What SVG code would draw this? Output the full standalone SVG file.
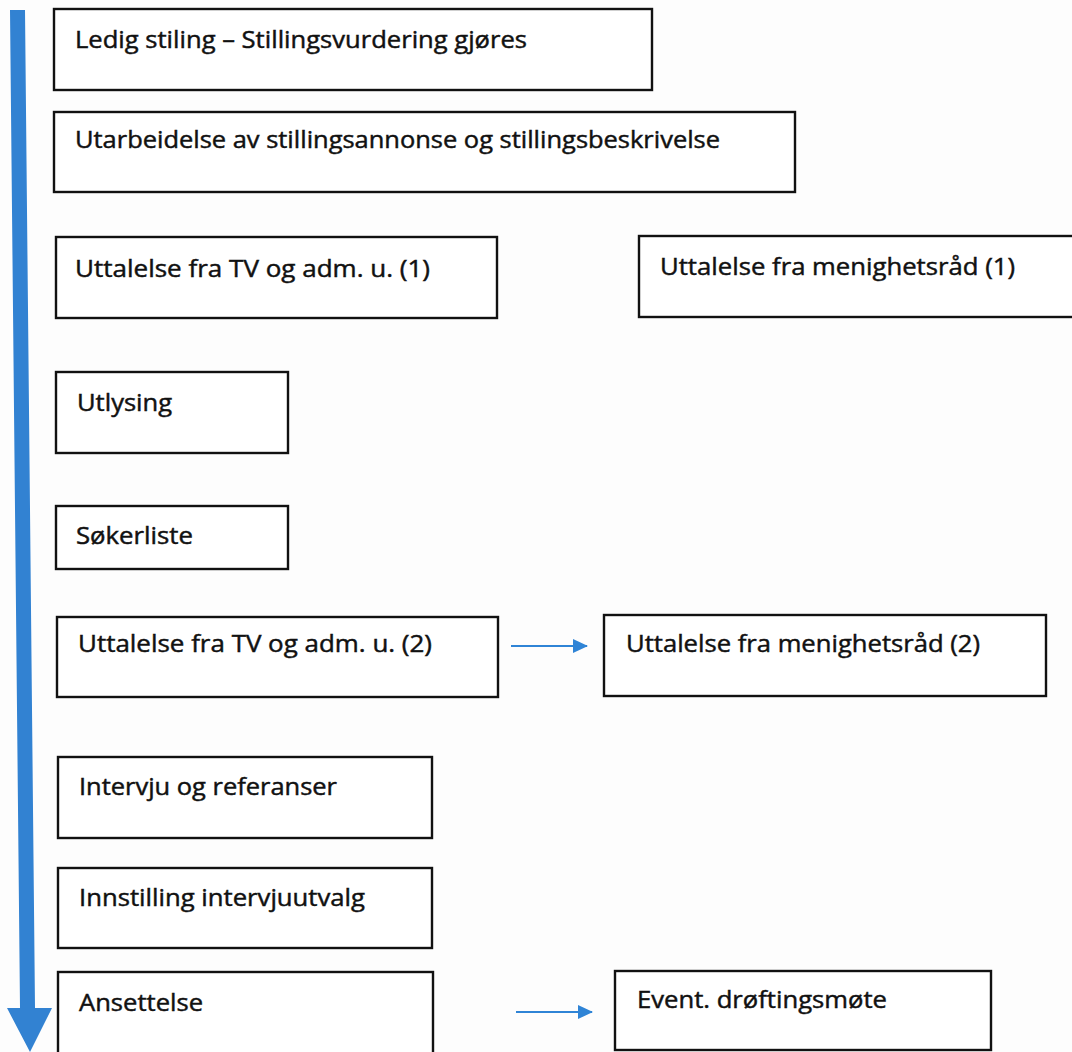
<svg xmlns="http://www.w3.org/2000/svg" width="1072" height="1052" viewBox="0 0 1072 1052">
<style>
.box{fill:#fff;stroke:#111;stroke-width:2.4}
.t{font-family:"Open Sans","Noto Sans","Liberation Sans",sans-serif;font-size:23px;fill:#111;stroke:#111;stroke-width:0.45}
.c{stroke:#2f84d6;stroke-width:2;fill:none}
</style>
<defs>
<marker id="ah" markerWidth="15" markerHeight="14" refX="14" refY="7" orient="auto" markerUnits="userSpaceOnUse">
<path d="M0,0 L15,7 L0,14 Z" fill="#2f84d6"/>
</marker>
</defs>
<rect width="1072" height="1052" fill="#fdfdfd"/>
<g id="connectors">
<polygon points="10,10 25,10 35,1008 52,1008 30,1052 7,1008 20,1008" fill="#3282d2"/>
<line class="c" x1="511" y1="646" x2="587" y2="646" marker-end="url(#ah)"/>
<line class="c" x1="516" y1="1012" x2="592" y2="1012" marker-end="url(#ah)"/>
</g>
<g id="n1"><rect class="box" x="54" y="9" width="598" height="81"/><text class="t" x="75" y="48" textLength="452" lengthAdjust="spacingAndGlyphs">Ledig stiling – Stillingsvurdering gjøres</text></g>
<g id="n2"><rect class="box" x="54" y="112" width="741" height="80"/><text class="t" x="75" y="148" textLength="645" lengthAdjust="spacingAndGlyphs">Utarbeidelse av stillingsannonse og stillingsbeskrivelse</text></g>
<g id="n3"><rect class="box" x="56" y="237" width="441" height="81"/><text class="t" x="75" y="277" textLength="355" lengthAdjust="spacingAndGlyphs">Uttalelse fra TV og adm. u. (1)</text></g>
<g id="n4"><rect class="box" x="639" y="236" width="440" height="81"/><text class="t" x="660" y="275" textLength="355" lengthAdjust="spacingAndGlyphs">Uttalelse fra menighetsråd (1)</text></g>
<g id="n5"><rect class="box" x="56" y="372" width="232" height="81"/><text class="t" x="77" y="411" textLength="95" lengthAdjust="spacingAndGlyphs">Utlysing</text></g>
<g id="n6"><rect class="box" x="56" y="506" width="232" height="63"/><text class="t" x="76" y="544" textLength="117" lengthAdjust="spacingAndGlyphs">Søkerliste</text></g>
<g id="n7"><rect class="box" x="57" y="617" width="441" height="80"/><text class="t" x="78" y="652" textLength="354" lengthAdjust="spacingAndGlyphs">Uttalelse fra TV og adm. u. (2)</text></g>
<g id="n8"><rect class="box" x="604" y="615" width="442" height="81"/><text class="t" x="626" y="652" textLength="354" lengthAdjust="spacingAndGlyphs">Uttalelse fra menighetsråd (2)</text></g>
<g id="n9"><rect class="box" x="58" y="757" width="374" height="81"/><text class="t" x="79" y="795" textLength="258" lengthAdjust="spacingAndGlyphs">Intervju og referanser</text></g>
<g id="n10"><rect class="box" x="58" y="868" width="374" height="80"/><text class="t" x="79" y="906" textLength="286" lengthAdjust="spacingAndGlyphs">Innstilling intervjuutvalg</text></g>
<g id="n11"><rect class="box" x="58" y="972" width="375" height="90"/><text class="t" x="79" y="1011" textLength="124" lengthAdjust="spacingAndGlyphs">Ansettelse</text></g>
<g id="n12"><rect class="box" x="615" y="971" width="376" height="79"/><text class="t" x="637" y="1008" textLength="250" lengthAdjust="spacingAndGlyphs">Event. drøftingsmøte</text></g>
</svg>
